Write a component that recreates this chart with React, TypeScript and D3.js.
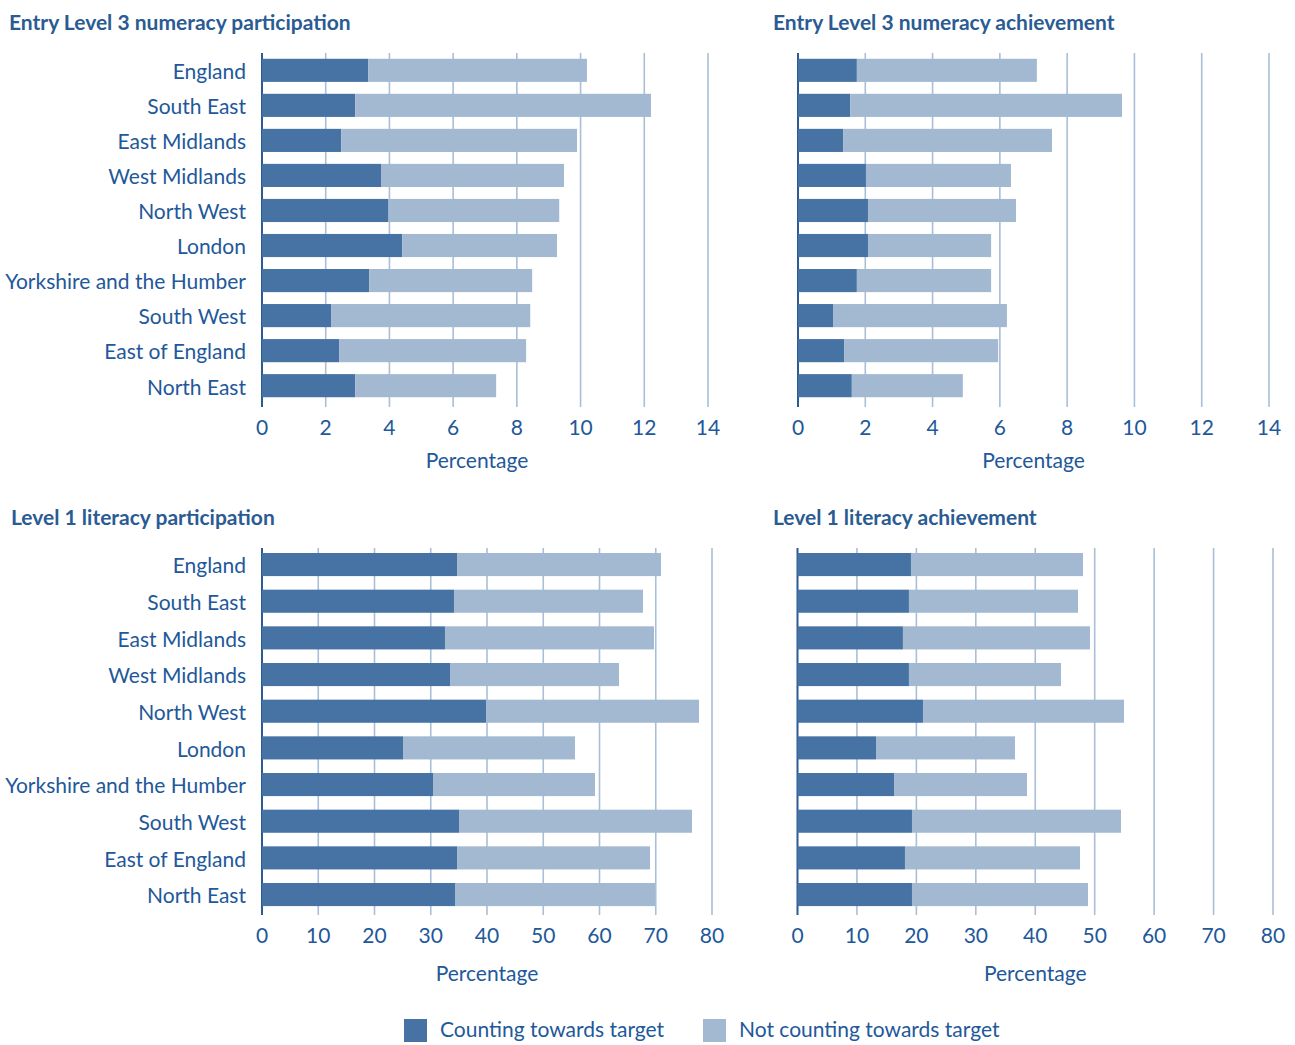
import React from "react";
import * as d3 from "d3";

const regions = [
  "England",
  "South East",
  "East Midlands",
  "West Midlands",
  "North West",
  "London",
  "Yorkshire and the Humber",
  "South West",
  "East of England",
  "North East",
];

// Entry Level 3 numeracy participation (%)
const numPartCounting = [3.34, 2.93, 2.49, 3.75, 3.97, 4.4, 3.37, 2.18, 2.43, 2.93];
const numPartNot = [6.86, 9.28, 7.4, 5.73, 5.36, 4.86, 5.11, 6.24, 5.86, 4.42];

// Entry Level 3 numeracy achievement (%)
const numAchCounting = [1.75, 1.55, 1.34, 2.02, 2.08, 2.08, 1.75, 1.04, 1.37, 1.6];
const numAchNot = [5.35, 8.08, 6.21, 4.31, 4.4, 3.66, 3.99, 5.17, 4.58, 3.3];

// Level 1 literacy participation (%)
const litPartCounting = [34.67, 34.13, 32.53, 33.42, 39.82, 25.07, 30.4, 35.02, 34.67, 34.31];
const litPartNot = [36.26, 33.6, 37.16, 30.05, 37.87, 30.57, 28.8, 41.42, 34.31, 35.56];

// Level 1 literacy achievement (%)
const litAchCounting = [19.09, 18.75, 17.74, 18.75, 21.11, 13.21, 16.24, 19.26, 18.08, 19.26];
const litAchNot = [28.94, 28.44, 31.47, 25.58, 33.82, 23.38, 22.37, 35.16, 29.45, 29.61];

const numeracyTicks = [0, 2, 4, 6, 8, 10, 12, 14];
const literacyTicks = [0, 10, 20, 30, 40, 50, 60, 70, 80];

const seriesNames = ["Counting towards target", "Not counting towards target"];
const axisTitle = "Percentage";

const DARK = "#4673a4";
const LIGHT = "#a3b9d1";
const TEXT = "#22589a";
const TITLE = "#2a5b93";
const GRID = "#a9bfd8";
const AXIS = "#2c5a92";
const FONT = "Lato, 'Noto Sans', sans-serif";

type PanelProps = {
  title: string;
  titleX: number;
  titleY: number;
  counting: number[];
  notCounting: number[];
  ticks: number[];
  x0: number;
  x1: number;
  plotTop: number;
  plotBottom: number;
  band: [number, number];
  padding: number;
  tickY: number;
  axisTitleY: number;
  axisTitleShift?: number;
  showLabels: boolean;
};

function Panel(p: PanelProps) {
  const x = d3
    .scaleLinear()
    .domain([0, p.ticks[p.ticks.length - 1]])
    .range([p.x0, p.x1]);
  const y = d3
    .scaleBand<string>()
    .domain(regions)
    .range(p.band)
    .paddingInner(p.padding)
    .paddingOuter(0.15);

  const stacked = d3
    .stack<number>()
    .keys(["c", "n"])
    .value((i, key) => (key === "c" ? p.counting[i] : p.notCounting[i]))(
    d3.range(regions.length)
  );

  return (
    <g>
      <text
        x={p.titleX}
        y={p.titleY}
        fill={TITLE}
        fontFamily={FONT}
        fontWeight={700}
        fontSize={21}
      >
        {p.title}
      </text>
      {p.ticks.map((t) => (
        <line
          key={"g" + t}
          x1={x(t)}
          x2={x(t)}
          y1={p.plotTop}
          y2={p.plotBottom}
          stroke={t === 0 ? AXIS : GRID}
          strokeWidth={t === 0 ? 2 : 1.6}
        />
      ))}
      {stacked.map((layer, li) =>
        layer.map((seg, i) => (
          <rect
            key={li + "-" + i}
            x={x(seg[0])}
            y={y(regions[i])}
            width={x(seg[1]) - x(seg[0])}
            height={y.bandwidth()}
            fill={li === 0 ? DARK : LIGHT}
          />
        ))
      )}
      {p.showLabels &&
        regions.map((r) => (
          <text
            key={r}
            x={246}
            y={(y(r) ?? 0) + y.bandwidth() / 2}
            dy="0.42em"
            textAnchor="end"
            fill={TEXT}
            fontFamily={FONT}
            fontSize={21}
          >
            {r}
          </text>
        ))}
      {p.ticks.map((t) => (
        <text
          key={"t" + t}
          x={x(t)}
          y={p.tickY}
          textAnchor="middle"
          fill={TEXT}
          fontFamily={FONT}
          fontSize={21}
        >
          {t}
        </text>
      ))}
      <text
        x={(p.x0 + p.x1) / 2 + (p.axisTitleShift ?? 0)}
        y={p.axisTitleY}
        textAnchor="middle"
        fill={TEXT}
        fontFamily={FONT}
        fontSize={21}
      >
        {axisTitle}
      </text>
    </g>
  );
}

export default function App() {
  const legendX = [404, 703];
  return (
    <svg
      width={1295}
      height={1045}
      style={{ position: "absolute", left: 0, top: 0, background: "#fff" }}
    >
      <Panel
        title="Entry Level 3 numeracy participation"
        titleX={9}
        titleY={30}
        counting={numPartCounting}
        notCounting={numPartNot}
        ticks={numeracyTicks}
        x0={262}
        x1={708}
        plotTop={53}
        plotBottom={407}
        band={[53.5, 402.5]}
        padding={0.34}
        tickY={435}
        axisTitleY={468}
        axisTitleShift={-8}
        showLabels={true}
      />
      <Panel
        title="Entry Level 3 numeracy achievement"
        titleX={773}
        titleY={30}
        counting={numAchCounting}
        notCounting={numAchNot}
        ticks={numeracyTicks}
        x0={798}
        x1={1269}
        plotTop={53}
        plotBottom={407}
        band={[53.5, 402.5]}
        padding={0.34}
        tickY={435}
        axisTitleY={468}
        showLabels={false}
      />
      <Panel
        title="Level 1 literacy participation"
        titleX={11}
        titleY={525}
        counting={litPartCounting}
        notCounting={litPartNot}
        ticks={literacyTicks}
        x0={262}
        x1={712}
        plotTop={548}
        plotBottom={915}
        band={[547.5, 911.6]}
        padding={0.37}
        tickY={943}
        axisTitleY={981}
        showLabels={true}
      />
      <Panel
        title="Level 1 literacy achievement"
        titleX={773}
        titleY={525}
        counting={litAchCounting}
        notCounting={litAchNot}
        ticks={literacyTicks}
        x0={797.5}
        x1={1273}
        plotTop={548}
        plotBottom={915}
        band={[547.5, 911.6]}
        padding={0.37}
        tickY={943}
        axisTitleY={981}
        showLabels={false}
      />
      {seriesNames.map((s, i) => (
        <g key={s}>
          <rect x={legendX[i]} y={1019} width={23} height={23} fill={i === 0 ? DARK : LIGHT} />
          <text
            x={legendX[i] + 36}
            y={1037}
            fill={TEXT}
            fontFamily={FONT}
            fontSize={21}
          >
            {s}
          </text>
        </g>
      ))}
    </svg>
  );
}
